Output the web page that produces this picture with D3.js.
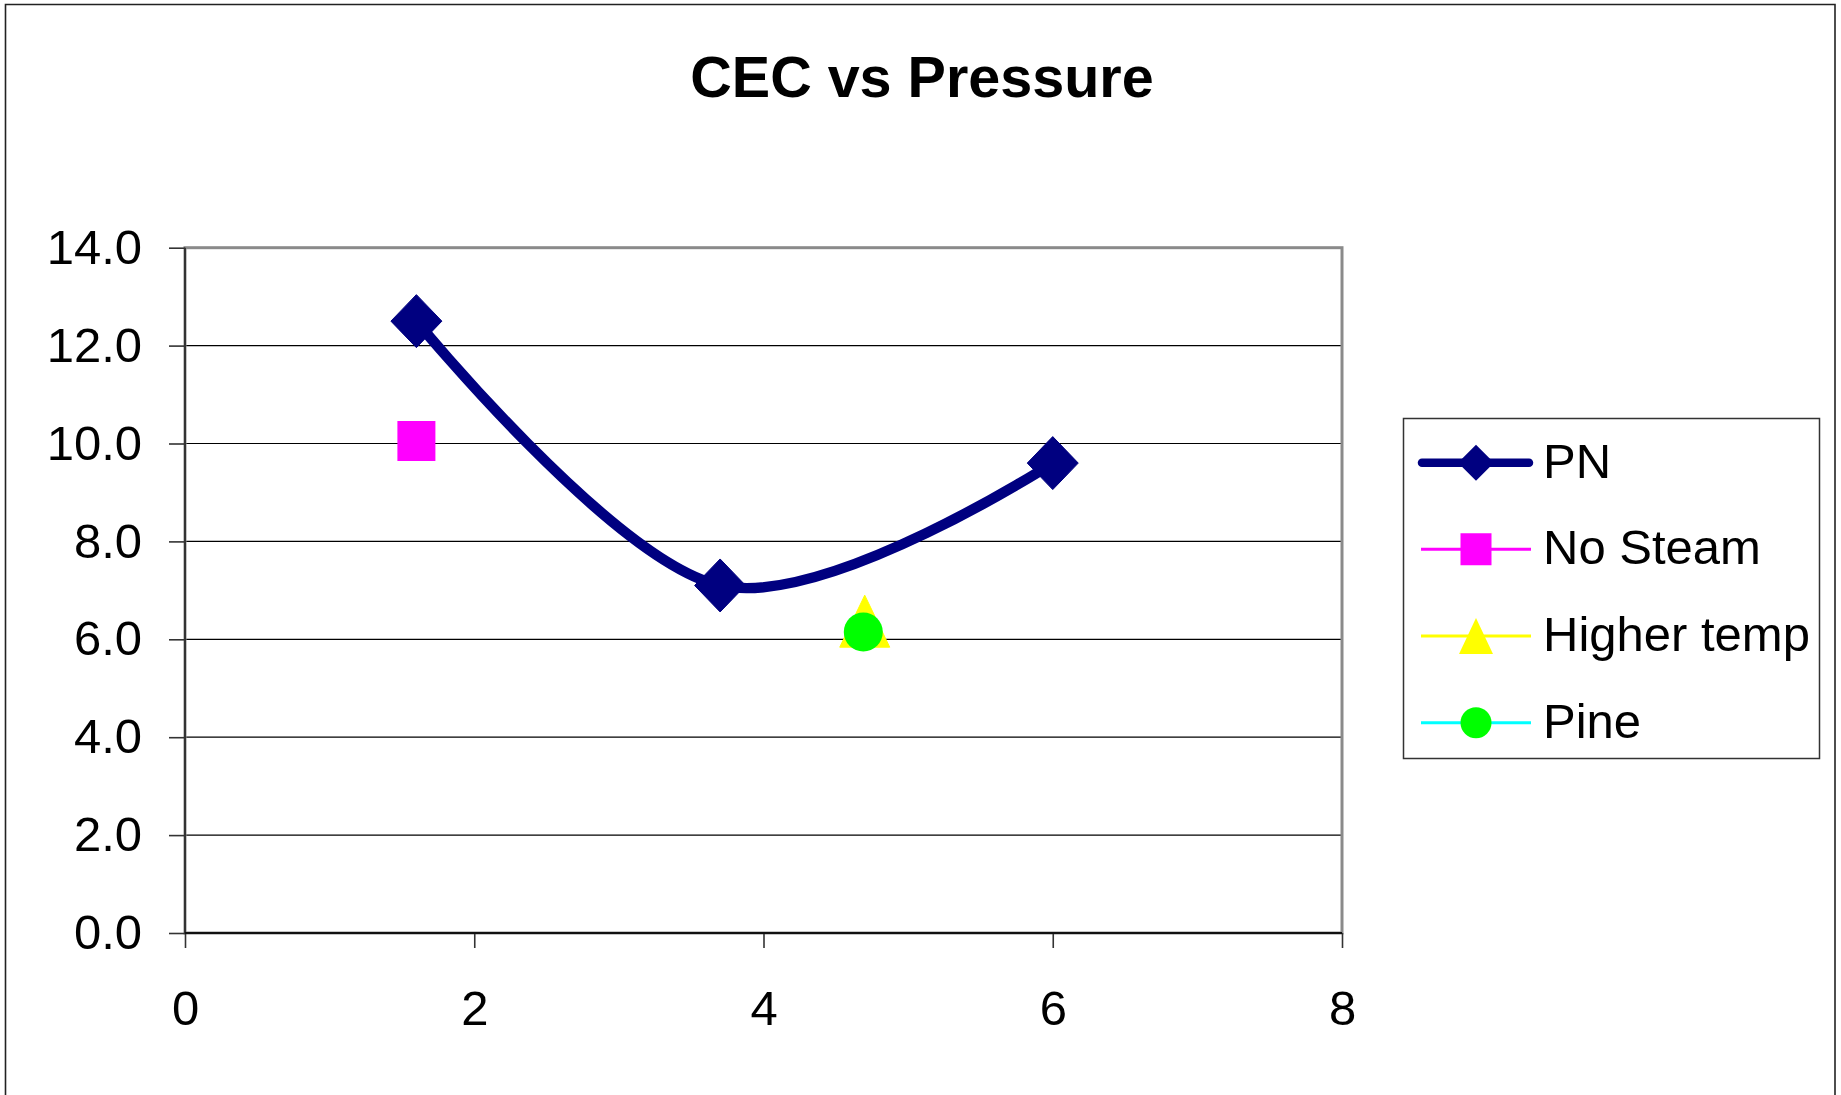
<!DOCTYPE html>
<head>
  <meta charset="utf-8">
  <script src="https://cdnjs.cloudflare.com/ajax/libs/d3/7.8.5/d3.min.js"></script>
  <style>
    body { margin:0; background:#fff; }
    text { font-family: "Liberation Sans", Arial, sans-serif; fill:#000; }
    .grid line { stroke:#000; stroke-width:1.2px; }
    .axis path { display:none; }
    .axis line { stroke:#333; stroke-width:1.6px; }
    .axis text { font-size:49px; }
  </style>
</head>

<body>
  <script>
    // values
    var seriesNames = ["PN", "No Steam", "Higher temp", "Pine"];
    var pnData = [{x: 1.6, y: 12.5}, {x: 3.7, y: 7.1}, {x: 6.0, y: 9.6}];
    var noSteamData = [{x: 1.6, y: 10.05}];
    var higherTempData = [{x: 4.7, y: 6.37}];
    var pineData = [{x: 4.69, y: 6.15}];
    var xTicks = [0, 2, 4, 6, 8];
    var yTicks = [0, 2, 4, 6, 8, 10, 12, 14];

    var W = 1841, H = 1095;
    var plot = {left: 185, right: 1342, top: 247.7, bottom: 933};

    var svg = d3.select("body").append("svg")
        .attr("width", W)
        .attr("height", H);

    // outer chart frame (bottom is cut off)
    svg.append("path")
        .attr("d", "M5.5," + H + "V4.5H1835V" + H)
        .attr("fill", "none")
        .attr("stroke", "#222")
        .attr("stroke-width", 1.6);

    // title
    svg.append("text")
        .attr("x", 922)
        .attr("y", 96.5)
        .attr("text-anchor", "middle")
        .style("font-size", "57.5px")
        .style("font-weight", "bold")
        .text("CEC vs Pressure");

    var x = d3.scaleLinear().domain([0, 8]).range([plot.left, plot.right]);
    var y = d3.scaleLinear().domain([0, 14]).range([plot.bottom, plot.top]);

    // gridlines
    svg.append("g").attr("class", "grid")
      .selectAll("line").data(yTicks.filter(function(d) { return d > 0 && d < 14; }))
      .enter().append("line")
        .attr("x1", plot.left).attr("x2", plot.right)
        .attr("y1", function(d) { return y(d); })
        .attr("y2", function(d) { return y(d); });

    // plot area border
    svg.append("rect")
        .attr("x", plot.left).attr("y", plot.top)
        .attr("width", plot.right - plot.left)
        .attr("height", plot.bottom - plot.top)
        .attr("fill", "none")
        .attr("stroke", "#8a8a8a")
        .attr("stroke-width", 3);

    // axes
    svg.append("g")
        .attr("class", "axis")
        .attr("transform", "translate(" + plot.left + ",0)")
        .call(d3.axisLeft(y).tickValues(yTicks).tickFormat(d3.format(".1f"))
          .tickSize(16).tickPadding(27));

    svg.append("g")
        .attr("class", "axis")
        .attr("transform", "translate(0," + plot.bottom + ")")
        .call(d3.axisBottom(x).tickValues(xTicks).tickFormat(d3.format("d"))
          .tickSize(15).tickPadding(42));

    // black axis lines over the gray border
    svg.append("line")
        .attr("x1", plot.left).attr("x2", plot.left)
        .attr("y1", plot.top).attr("y2", plot.bottom)
        .attr("stroke", "#333").attr("stroke-width", 2);
    svg.append("line")
        .attr("x1", plot.left).attr("x2", plot.right)
        .attr("y1", plot.bottom).attr("y2", plot.bottom)
        .attr("stroke", "#111").attr("stroke-width", 2);

    // marker shapes, s = half size
    function marker(shape, sx, sy) {
      var p = d3.path();
      if (shape == "diamond") {
        p.moveTo(0, -sy); p.lineTo(sx, 0); p.lineTo(0, sy); p.lineTo(-sx, 0); p.closePath();
      } else if (shape == "square") {
        p.rect(-sx, -sy, 2 * sx, 2 * sy);
      } else if (shape == "triangle") {
        p.moveTo(0, -sy); p.lineTo(sx, sy); p.lineTo(-sx, sy); p.closePath();
      } else {
        p.arc(0, 0, sx, 0, 2 * Math.PI);
      }
      return p.toString();
    }

    // PN smoothed line
    var line = d3.line()
        .x(function(d) { return x(d.x); })
        .y(function(d) { return y(d.y); })
        .curve(d3.curveCardinal.tension(0));

    svg.append("path")
        .datum(pnData)
        .attr("fill", "none")
        .attr("stroke", "#000080")
        .attr("stroke-width", 10.5)
        .attr("stroke-linejoin", "round")
        .attr("d", line);

    svg.selectAll(".pn").data(pnData).enter().append("path")
        .attr("class", "pn")
        .attr("transform", function(d) { return "translate(" + x(d.x) + "," + y(d.y) + ")"; })
        .attr("d", marker("diamond", 25.5, 26.5))
        .attr("fill", "#000080")
        .attr("stroke", "#000080").attr("stroke-width", 1).attr("stroke-linejoin", "round");

    svg.selectAll(".ns").data(noSteamData).enter().append("path")
        .attr("class", "ns")
        .attr("transform", function(d) { return "translate(" + x(d.x) + "," + y(d.y) + ")"; })
        .attr("d", marker("square", 19, 20))
        .attr("fill", "#ff00ff");

    svg.selectAll(".ht").data(higherTempData).enter().append("path")
        .attr("class", "ht")
        .attr("transform", function(d) { return "translate(" + x(d.x) + "," + y(d.y) + ")"; })
        .attr("d", marker("triangle", 25, 26))
        .attr("fill", "#ffff00")
        .attr("stroke", "#ffff00").attr("stroke-width", 1).attr("stroke-linejoin", "round");

    svg.selectAll(".pi").data(pineData).enter().append("path")
        .attr("class", "pi")
        .attr("transform", function(d) { return "translate(" + x(d.x) + "," + y(d.y) + ")"; })
        .attr("d", marker("circle", 19.5, 19.5))
        .attr("fill", "#00ff00");

    // legend
    var legend = svg.append("g");
    legend.append("rect")
        .attr("x", 1403.5).attr("y", 418.5)
        .attr("width", 416).attr("height", 340)
        .attr("fill", "#fff")
        .attr("stroke", "#333").attr("stroke-width", 1.5);

    var legendStyle = [
      {line: "#000080", lw: 8.5, shape: "diamond", fill: "#000080", sx: 18, sy: 18, cap: "round"},
      {line: "#ff00ff", lw: 3, shape: "square", fill: "#ff00ff", sx: 15.5, sy: 16, cap: "butt"},
      {line: "#ffff00", lw: 3, shape: "triangle", fill: "#ffff00", sx: 17, sy: 18, cap: "butt"},
      {line: "#00ffff", lw: 3, shape: "circle", fill: "#00ff00", sx: 15.5, sy: 15.5, cap: "butt"}
    ];

    var rowY = d3.scalePoint().domain(seriesNames).range([462.7, 722.7]);

    var item = legend.selectAll(".item").data(seriesNames).enter().append("g")
        .attr("class", "item")
        .attr("transform", function(d) { return "translate(0," + rowY(d) + ")"; });

    item.append("line")
        .attr("x1", function(d, i) { return i == 0 ? 1422 : 1421; })
        .attr("x2", function(d, i) { return i == 0 ? 1529 : 1531; })
        .attr("stroke", function(d, i) { return legendStyle[i].line; })
        .attr("stroke-width", function(d, i) { return legendStyle[i].lw; })
        .attr("stroke-linecap", function(d, i) { return legendStyle[i].cap; });

    item.append("path")
        .attr("transform", "translate(1476,0)")
        .attr("d", function(d, i) { return marker(legendStyle[i].shape, legendStyle[i].sx, legendStyle[i].sy); })
        .attr("fill", function(d, i) { return legendStyle[i].fill; });

    item.append("text")
        .attr("x", 1543)
        .attr("y", 15)
        .style("font-size", "49px")
        .text(function(d) { return d; });
  </script>
</body>
